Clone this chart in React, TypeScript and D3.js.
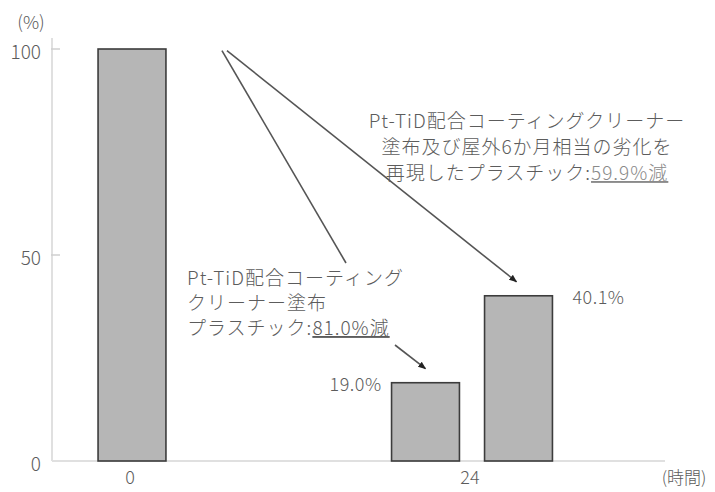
import * as d3 from 'd3';
import { useEffect } from 'react';

// time (h) of each bar and the remaining value (%)
const barTimes = [0, 24, 24];
const barValues = [100, 19.0, 40.1];
const barLabels = ['', '19.0%', '40.1%'];

const xTicks = [0, 24];
const yTicks = [0, 50, 100];
const yUnit = '(%)';
const xUnit = '(時間)';

const noteA = ['Pt-TiD配合コーティングクリーナー', '塗布及び屋外6か月相当の劣化を', '再現したプラスチック:'];
const noteAHighlight = '59.9%減';
const noteB = ['Pt-TiD配合コーティング', 'クリーナー塗布', 'プラスチック:'];
const noteBHighlight = '81.0%減';

const font = "'Noto Sans CJK JP', 'Noto Sans', sans-serif";
const textColor = '#5c5c5c';

export default function App() {
  useEffect(() => {
    document.body.style.margin = '0';
  }, []);

  const width = 715;
  const height = 492;
  const xScale = d3.scaleLinear().domain([0, 24]).range([132, 472]);
  const yScale = d3.scaleLinear().domain([0, 100]).range([461, 49]);

  // bars sharing a time are spread side by side with a small band scale
  const step = 93;
  const bars = barValues.map((v, i) => {
    const group = barTimes.map((t, j) => (t === barTimes[i] ? j : -1)).filter((j) => j >= 0);
    const sub = d3
      .scaleBand<number>()
      .domain(group)
      .range([(-group.length * step) / 2, (group.length * step) / 2])
      .paddingInner(0.27)
      .paddingOuter(0.135);
    const x0 = xScale(barTimes[i]) + sub(i)!;
    return { x: x0, w: sub.bandwidth(), cx: x0 + sub.bandwidth() / 2, top: yScale(v), v, label: barLabels[i] };
  });

  const axisColor = '#e0e0e0';
  const origin = { x: xScale(6.35), y: yScale(99.6) };

  return (
    <svg width={width} height={height} style={{ display: 'block' }} fontFamily={font}>
      <defs>
        <marker id="head" viewBox="0 0 10 10" refX="9" refY="5" markerWidth="5" markerHeight="5" orient="auto">
          <path d="M0,1 L10,5 L0,9 z" fill="#222" />
        </marker>
      </defs>

      {/* axes */}
      <line x1={52} x2={52} y1={38} y2={yScale(0)} stroke={axisColor} strokeWidth={2} />
      <line x1={52} x2={665} y1={yScale(0)} y2={yScale(0)} stroke={axisColor} strokeWidth={2} />
      {yTicks.map((t) => (
        <g key={t}>
          {t > 0 && <line x1={51} x2={60} y1={yScale(t)} y2={yScale(t)} stroke="#cfcfcf" strokeWidth={1.5} />}
          <text x={41} y={yScale(t) + 3} dy="0.35em" textAnchor="end" fontSize={19} fill={textColor} fontWeight={300}>
            {t}
          </text>
        </g>
      ))}
      <text x={31} y={23} dy="0.35em" textAnchor="middle" fontSize={18} fill={textColor} fontWeight={300}>
        {yUnit}
      </text>
      {xTicks.map((t) => (
        <text key={t} x={xScale(t) - 2} y={478} dy="0.35em" textAnchor="middle" fontSize={18} fill={textColor} fontWeight={300}>
          {t}
        </text>
      ))}
      <text x={684} y={478} dy="0.35em" textAnchor="middle" fontSize={17} fill={textColor} fontWeight={300}>
        {xUnit}
      </text>

      {/* bars */}
      {bars.map((b, i) => (
        <rect key={i} x={b.x} y={b.top} width={b.w} height={yScale(0) - b.top} fill="#b6b6b6" stroke="#3c3c3c" strokeWidth={1.6} />
      ))}
      {bars[1] && (
        <text x={bars[1].x - 10} y={bars[1].top + 2} dy="0.35em" textAnchor="end" fontSize={18} fill={textColor} fontWeight={300} letterSpacing={0.5}>
          {bars[1].label}
        </text>
      )}
      {bars[2] && (
        <text x={bars[2].x + bars[2].w + 20} y={bars[2].top + 2} dy="0.35em" textAnchor="start" fontSize={18} fill={textColor} fontWeight={300} letterSpacing={0.5}>
          {bars[2].label}
        </text>
      )}

      {/* arrows */}
      <line x1={origin.x} y1={origin.y} x2={346} y2={263} stroke="#555" strokeWidth={1.6} />
      <line x1={395} y1={345} x2={bars[1].cx} y2={bars[1].top - 14} stroke="#555" strokeWidth={1.6} markerEnd="url(#head)" />
      <line x1={origin.x + 5} y1={origin.y} x2={bars[2].cx - 2} y2={bars[2].top - 14} stroke="#555" strokeWidth={1.6} markerEnd="url(#head)" />

      {/* annotations */}
      <g fontSize={19} fill={textColor} fontWeight={300} letterSpacing={1}>
        {noteA.map((l, i) => (
          <text key={i} x={527} y={128 + i * 26} textAnchor="middle">
            {l}
            {i === noteA.length - 1 && (
              <tspan fill="#8a8a8a" textDecoration="underline">
                {noteAHighlight}
              </tspan>
            )}
          </text>
        ))}
        {noteB.map((l, i) => (
          <text key={i} x={187} y={285 + i * 25} textAnchor="start">
            {l}
            {i === noteB.length - 1 && (
              <tspan textDecoration="underline">{noteBHighlight}</tspan>
            )}
          </text>
        ))}
      </g>
    </svg>
  );
}
